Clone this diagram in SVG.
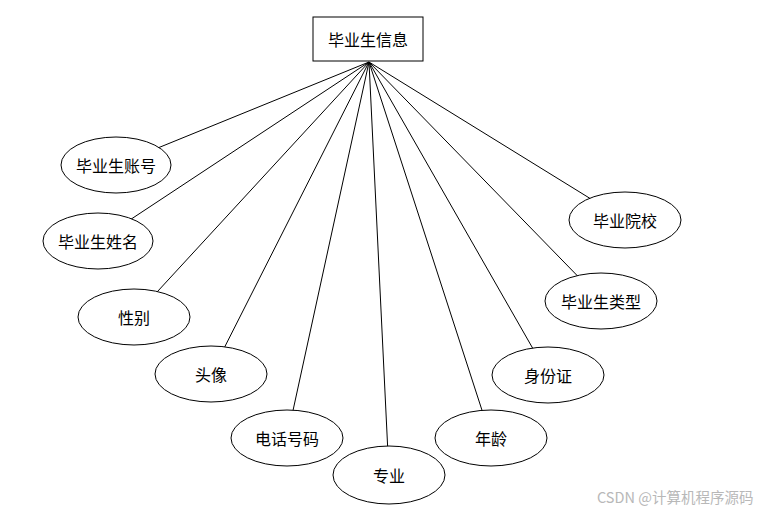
<svg xmlns="http://www.w3.org/2000/svg" width="761" height="512" viewBox="0 0 761 512">
<style>
.e{fill:#fff;stroke:#000;stroke-width:1}
.t{font-family:"Noto Sans CJK SC","Noto Sans",sans-serif;font-size:16px;fill:#000;text-anchor:middle;dominant-baseline:central}
.c line{stroke:#000;stroke-width:1}
.wm{font-family:"Noto Sans CJK SC","Noto Sans",sans-serif;font-size:14.5px;fill:#b8b8b8}
</style>
<rect width="761" height="512" fill="#fff"/>
<g id="connectors" class="c">
<line x1="369" y1="62" x2="116" y2="165"/>
<line x1="369" y1="62" x2="98" y2="241"/>
<line x1="369" y1="62" x2="134" y2="317"/>
<line x1="369" y1="62" x2="211" y2="374"/>
<line x1="369" y1="62" x2="287" y2="438"/>
<line x1="369" y1="62" x2="389" y2="475"/>
<line x1="369" y1="62" x2="491" y2="438"/>
<line x1="369" y1="62" x2="548" y2="375"/>
<line x1="369" y1="62" x2="601" y2="300"/>
<line x1="369" y1="62" x2="625" y2="220"/>
</g>
<g id="root"><rect x="313" y="17" width="110" height="44" class="e"/><text x="368" y="39" class="t">毕业生信息</text></g>
<g id="n1"><ellipse cx="116" cy="165" rx="55" ry="28" class="e"/><text x="116" y="165" class="t">毕业生账号</text></g>
<g id="n2"><ellipse cx="98" cy="241" rx="55" ry="28" class="e"/><text x="98" y="241" class="t">毕业生姓名</text></g>
<g id="n3"><ellipse cx="134" cy="317" rx="56" ry="28" class="e"/><text x="134" y="317" class="t">性别</text></g>
<g id="n4"><ellipse cx="211" cy="374" rx="56" ry="28" class="e"/><text x="211" y="374" class="t">头像</text></g>
<g id="n5"><ellipse cx="287" cy="438" rx="56" ry="28" class="e"/><text x="287" y="438" class="t">电话号码</text></g>
<g id="n6"><ellipse cx="389" cy="475" rx="56" ry="29" class="e"/><text x="389" y="475" class="t">专业</text></g>
<g id="n7"><ellipse cx="491" cy="438" rx="56" ry="28" class="e"/><text x="491" y="438" class="t">年龄</text></g>
<g id="n8"><ellipse cx="548" cy="375" rx="56" ry="28" class="e"/><text x="548" y="375" class="t">身份证</text></g>
<g id="n9"><ellipse cx="601" cy="301" rx="56" ry="28" class="e"/><text x="601" y="301" class="t">毕业生类型</text></g>
<g id="n10"><ellipse cx="625" cy="220" rx="56" ry="28" class="e"/><text x="625" y="220" class="t">毕业院校</text></g>
<text x="597" y="503" class="wm">CSDN @计算机程序源码</text>
</svg>
